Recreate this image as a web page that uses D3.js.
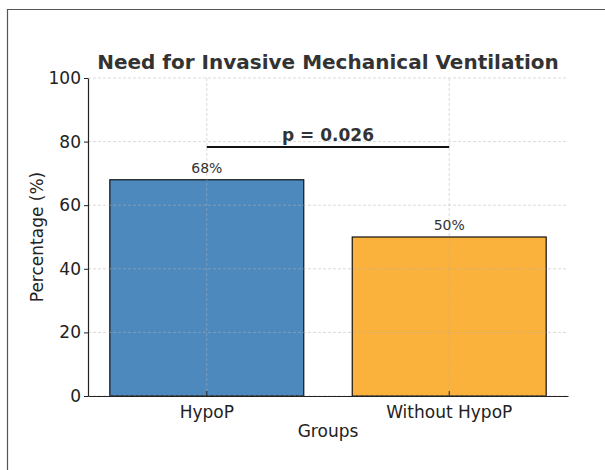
<!DOCTYPE html>
<html>
<head>
<meta charset="utf-8">
<script src="https://cdn.jsdelivr.net/npm/d3@7"></script>
<style>
  body { margin: 0; background: #fff; }
  text { font-family: "DejaVu Sans", sans-serif; }
</style>
</head>
<body>
<svg id="chart" width="605" height="470"></svg>
<script>
var groups = ["HypoP", "Without HypoP"];
var percents = [68, 50];
var barColors = ["#4e89bd", "#fbb23c"];
var yTicks = [0, 20, 40, 60, 80, 100];
var pLabel = "p = 0.026";
var pLevel = 78.3;

var svg = d3.select("#chart");
var margin = { top: 78, left: 88, bottom: 74, right: 37 };
var width = +svg.attr("width");
var height = +svg.attr("height");

// figure frame (cropped at right/bottom)
svg.append("path")
  .attr("d", "M7.5,470 L7.5,9.5 L605,9.5")
  .attr("fill", "none")
  .attr("stroke", "#555")
  .attr("stroke-width", 1.2);

var x = d3.scaleBand()
  .domain(groups)
  .range([margin.left, width - margin.right])
  .paddingInner(0.2)
  .paddingOuter(0.09);

var y = d3.scaleLinear()
  .domain([0, 100])
  .range([height - margin.bottom, margin.top]);

// bars
svg.selectAll("rect.bar")
  .data(percents)
  .enter().append("rect")
  .attr("class", "bar")
  .attr("x", (d, i) => x(groups[i]))
  .attr("y", d => y(d))
  .attr("width", x.bandwidth())
  .attr("height", d => y(0) - y(d))
  .attr("fill", (d, i) => barColors[i])
  .attr("stroke", "#111")
  .attr("stroke-width", 1.2);

// grid on top of bars
var grid = svg.append("g")
  .attr("stroke", "#b0b0b0")
  .attr("stroke-opacity", 0.6)
  .attr("stroke-width", 0.8)
  .attr("stroke-dasharray", "3,2");

grid.selectAll("line.hg")
  .data(yTicks)
  .enter().append("line")
  .attr("x1", margin.left)
  .attr("x2", width - margin.right)
  .attr("y1", d => y(d))
  .attr("y2", d => y(d));

grid.selectAll("line.vg")
  .data(groups)
  .enter().append("line")
  .attr("x1", d => x(d) + x.bandwidth() / 2)
  .attr("x2", d => x(d) + x.bandwidth() / 2)
  .attr("y1", y(100))
  .attr("y2", y(0));

// y axis
var yAxis = svg.append("g")
  .attr("transform", `translate(${margin.left},0)`)
  .call(d3.axisLeft(y).tickValues(yTicks).tickSize(4).tickPadding(3).tickSizeOuter(0));
yAxis.select(".domain").attr("stroke", "#222").attr("stroke-width", 1.2);
yAxis.selectAll(".tick line").attr("stroke", "#222");
yAxis.selectAll(".tick text")
  .attr("fill", "#222")
  .style("font-size", "17px");

// x axis
var xAxis = svg.append("g")
  .attr("transform", `translate(0,${y(0)})`)
  .call(d3.axisBottom(x).tickSize(-5).tickPadding(10).tickSizeOuter(0));
xAxis.select(".domain").attr("stroke", "#222").attr("stroke-width", 1.2);
xAxis.selectAll(".tick line").attr("stroke", "#222");
xAxis.selectAll(".tick text")
  .attr("fill", "#222")
  .style("font-size", "17px");

// axis labels
svg.append("text")
  .attr("x", (margin.left + width - margin.right) / 2)
  .attr("y", 437)
  .attr("text-anchor", "middle")
  .attr("fill", "#222")
  .style("font-size", "17px")
  .text("Groups");

svg.append("text")
  .attr("transform", `translate(43,${(y(0) + y(100)) / 2}) rotate(-90)`)
  .attr("text-anchor", "middle")
  .attr("fill", "#222")
  .style("font-size", "17px")
  .text("Percentage (%)");

// title
svg.append("text")
  .attr("x", (margin.left + width - margin.right) / 2)
  .attr("y", 69)
  .attr("text-anchor", "middle")
  .attr("fill", "#333")
  .style("font-size", "20px")
  .style("font-weight", "bold")
  .text("Need for Invasive Mechanical Ventilation");

// bar value labels
svg.selectAll("text.val")
  .data(percents)
  .enter().append("text")
  .attr("class", "val")
  .attr("x", (d, i) => x(groups[i]) + x.bandwidth() / 2)
  .attr("y", d => y(d) - 7)
  .attr("text-anchor", "middle")
  .attr("fill", "#333")
  .style("font-size", "14px")
  .text(d => d + "%");

// significance bracket
var cx0 = x(groups[0]) + x.bandwidth() / 2;
var cx1 = x(groups[1]) + x.bandwidth() / 2;
svg.append("line")
  .attr("x1", cx0)
  .attr("x2", cx1)
  .attr("y1", y(pLevel))
  .attr("y2", y(pLevel))
  .attr("stroke", "#111")
  .attr("stroke-width", 2);

svg.append("text")
  .attr("x", (cx0 + cx1) / 2)
  .attr("y", y(pLevel) - 6)
  .attr("text-anchor", "middle")
  .attr("fill", "#333")
  .style("font-size", "17px")
  .style("font-weight", "bold")
  .text(pLabel);
</script>
</body>
</html>
